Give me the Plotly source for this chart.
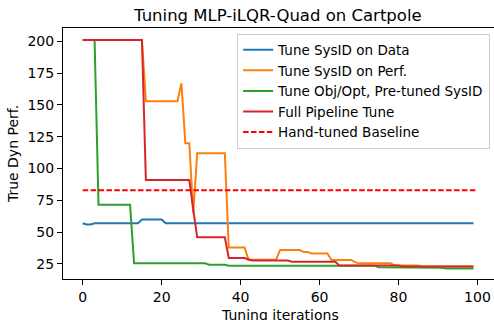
import plotly.graph_objects as go

iterations = list(range(100))

sysid_data = [57, 56, 56] + [57] * 12 + [60] * 6 + [57] * 79

sysid_perf = ([201] * 16 + [153] * 9 + [167] + [120] * 2 + [65] + [112] * 8 + [38] * 5
              + [28.4] * 8 + [36] * 6 + [34.4] * 2 + [33.2] * 5 + [28.2] * 6 + [26.5]
              + [25.5] * 9 + [23.9] * 7 + [23.1] * 14)

objopt = ([201] * 4 + [71.6] * 9 + [25.5] * 19 + [24.4] * 5 + [23.6] * 38
          + [22.5] * 7 + [22.0] * 10 + [21.5] * 8)

full_pipeline = ([201] * 16 + [91] * 12 + [68] + [46] * 8 + [29.7] * 5 + [28.5]
                 + [27.8] * 10 + [26.8] * 12 + [23.9] * 16 + [23.1] * 19)

baseline_x = [0, 100]
baseline_y = [83, 83]

x_ticks = [0, 20, 40, 60, 80, 100]
y_ticks = [25, 50, 75, 100, 125, 150, 175, 200]

names = ["Tune SysID on Data", "Tune SysID on Perf.", "Tune Obj/Opt, Pre-tuned SysID",
         "Full Pipeline Tune", "Hand-tuned Baseline"]
colors = ["#1f77b4", "#ff7f0e", "#2ca02c", "#d62728", "#ff0000"]

FONT = "DejaVu Sans"

fig = go.Figure()
for ys, name, col in zip([sysid_data, sysid_perf, objopt, full_pipeline], names[:4], colors[:4]):
    fig.add_trace(go.Scatter(x=iterations, y=ys, mode="lines", name=name,
                             line=dict(color=col, width=2)))
fig.add_trace(go.Scatter(x=baseline_x, y=baseline_y, mode="lines", name=names[4],
                         line=dict(color=colors[4], width=2, dash="5.5px,2.4px")))

fig.update_layout(
    width=494, height=320,
    margin=dict(l=63, r=0, t=28, b=41, autoexpand=False),
    paper_bgcolor="white", plot_bgcolor="white",
    font=dict(family=FONT, size=14, color="black"),
    title=dict(text="Tuning MLP-iLQR-Quad on Cartpole", x=0.5625, xanchor="center",
               y=0.953, yanchor="middle", font=dict(size=16.5, family=FONT)),
    showlegend=True,
    legend=dict(x=0.404, y=0.978, xanchor="left", yanchor="top",
                bgcolor="rgba(255,255,255,0.8)", bordercolor="#cccccc", borderwidth=1,
                font=dict(size=13.5, family=FONT), itemwidth=30, tracegroupgap=0),
    annotations=[dict(text="Tuning iterations", xref="paper", yref="paper",
                      x=0.5046, y=-0.104, xanchor="center", yanchor="top",
                      showarrow=False, font=dict(size=14, family=FONT))],
)
fig.update_xaxes(range=[-5, 104.2], tickvals=x_ticks, showgrid=False, zeroline=False,
                 showline=True, linecolor="black", linewidth=1, mirror=True,
                 ticks="outside", ticklen=5, tickcolor="black", automargin=False)
fig.update_yaxes(range=[13.2, 210.5], tickvals=y_ticks, showgrid=False, zeroline=False,
                 showline=True, linecolor="black", linewidth=1, automargin=False,
                 ticks="outside", ticklen=5, tickcolor="black",
                 title=dict(text="True Dyn Perf.", standoff=5, font=dict(size=14)))

fig.write_html("out.html", config={"displayModeBar": False},
               post_script="document.body.style.margin='0';")
